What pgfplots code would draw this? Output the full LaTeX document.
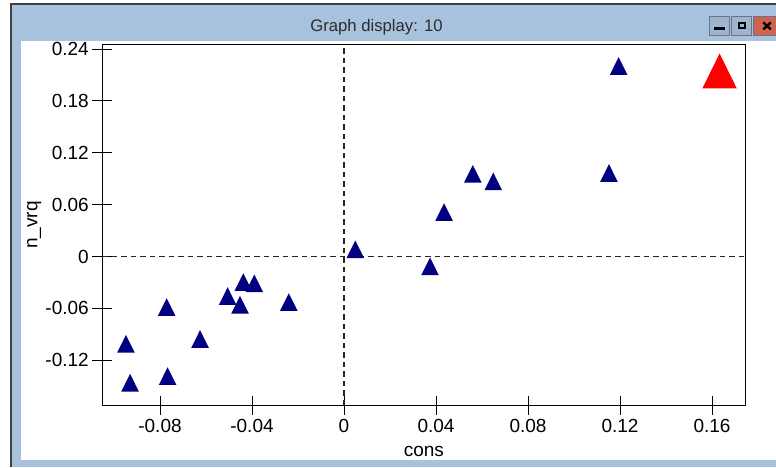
\documentclass[border=0pt]{standalone}
\usepackage{pgfplots}
\pgfplotsset{compat=1.18}
\usepackage{fontspec}
\setmainfont{Liberation Sans}
\definecolor{frameblue}{RGB}{168,193,221}
\definecolor{btnfill}{RGB}{158,180,208}
\definecolor{btnedge}{RGB}{100,116,138}
\definecolor{closered}{RGB}{208,98,80}
\definecolor{navy}{RGB}{0,0,128}
\definecolor{titlegray}{RGB}{45,45,45}
\pgfdeclareplotmark{tri}{%
  \pgfpathmoveto{\pgfqpoint{0pt}{11.8pt}}%
  \pgfpathlineto{\pgfqpoint{8.8pt}{-5.9pt}}%
  \pgfpathlineto{\pgfqpoint{-8.8pt}{-5.9pt}}%
  \pgfpathclose\pgfusepathqfill}
\pgfdeclareplotmark{bigtri}{%
  \pgfpathmoveto{\pgfqpoint{0pt}{23.3pt}}%
  \pgfpathlineto{\pgfqpoint{17.2pt}{-11.7pt}}%
  \pgfpathlineto{\pgfqpoint{-17.2pt}{-11.7pt}}%
  \pgfpathclose\pgfusepathqfill}
\begin{document}
\begin{tikzpicture}[x=1pt,y=1pt]
\useasboundingbox (0,0) rectangle (776,467);
\fill[white] (0,0) rectangle (776,467);
\fill[frameblue] (11,0) rectangle (776,463);
\draw[line width=1.5pt, black!75] (11,0) -- (11,463) -- (776,463);
\fill[white] (20.7,7) rectangle (776,426.3);
% title
\node[anchor=base, font=\fontsize{16.7}{16.7}\selectfont, text=titlegray, inner sep=0pt] at (376.5,435.3) {Graph display: 10};
% window buttons
\draw[fill=btnfill, draw=btnedge, line width=0.8pt] (709.8,431.3) rectangle (729.8,451);
\fill[black] (714,437) rectangle (725,440.3);
\draw[fill=btnfill, draw=btnedge, line width=0.8pt] (731.8,431.3) rectangle (751.6,451);
\draw[black, line width=1.9pt] (738.6,438.9) rectangle (744.8,444);
\draw[fill=closered, draw=btnedge, line width=0.8pt] (753.6,431.3) rectangle (780,451);
\draw[black, line width=2.4pt] (763.3,444.6) -- (770.8,437.6);
\draw[black, line width=2.4pt] (763.3,437.6) -- (770.8,444.6);
\begin{axis}[
  at={(102pt,62pt)}, anchor=south west,
  scale only axis, width=643.7pt, height=360pt,
  xmin=-0.10522, xmax=0.17465, ymin=-0.17183, ymax=0.24473,
  xtick={-0.08,-0.04,0,0.04,0.08,0.12,0.16},
  xticklabels={-0.08,-0.04,0,0.04,0.08,0.12,0.16},
  ytick={-0.12,-0.06,0,0.06,0.12,0.18,0.24},
  yticklabels={-0.12,-0.06,0,0.06,0.12,0.18,0.24},
  tick align=center, major tick length=19pt,
  xtick pos=left, ytick pos=left,
  tick style={black, line width=1pt},
  axis line style={black, line width=1pt},
  ticklabel style={font=\fontsize{19}{19}\selectfont, inner sep=0pt},
  xticklabel style={yshift=-4.5pt},
  yticklabel style={xshift=-3.5pt},
  every axis x label/.style={at={(axis description cs:0.5,-0.1417)}, anchor=base, inner sep=0pt, font=\fontsize{19}{19}\selectfont},
  every axis y label/.style={at={(axis description cs:-0.1002,0.5)}, rotate=90, anchor=base, inner sep=0pt, font=\fontsize{19}{19}\selectfont},
  xlabel={cons}, ylabel={n\_vrq},
]
\addplot[black!85, line width=1.2pt, dash pattern=on 5.5pt off 4pt] coordinates {(0,-0.17183) (0,0.24473)};
\addplot[black!85, line width=1.2pt, dash pattern=on 5.5pt off 4pt] coordinates {(-0.10522,0) (0.17465,0)};
\addplot[only marks, mark=tri, navy] coordinates {
(0.1194,0.2170)
(0.1152,0.0932)
(0.0560,0.0923)
(0.0649,0.0835)
(0.0435,0.0480)
(0.0049,0.0049)
(0.0374,-0.0148)
(-0.0240,-0.0561)
(-0.0438,-0.0330)
(-0.0390,-0.0345)
(-0.0506,-0.0492)
(-0.0452,-0.0592)
(-0.0771,-0.0619)
(-0.0626,-0.0989)
(-0.0948,-0.1044)
(-0.0930,-0.1495)
(-0.0767,-0.1418)
};
\addplot[only marks, mark=bigtri, red] coordinates {(0.1633,0.2080)};
\end{axis}
\end{tikzpicture}
\end{document}
